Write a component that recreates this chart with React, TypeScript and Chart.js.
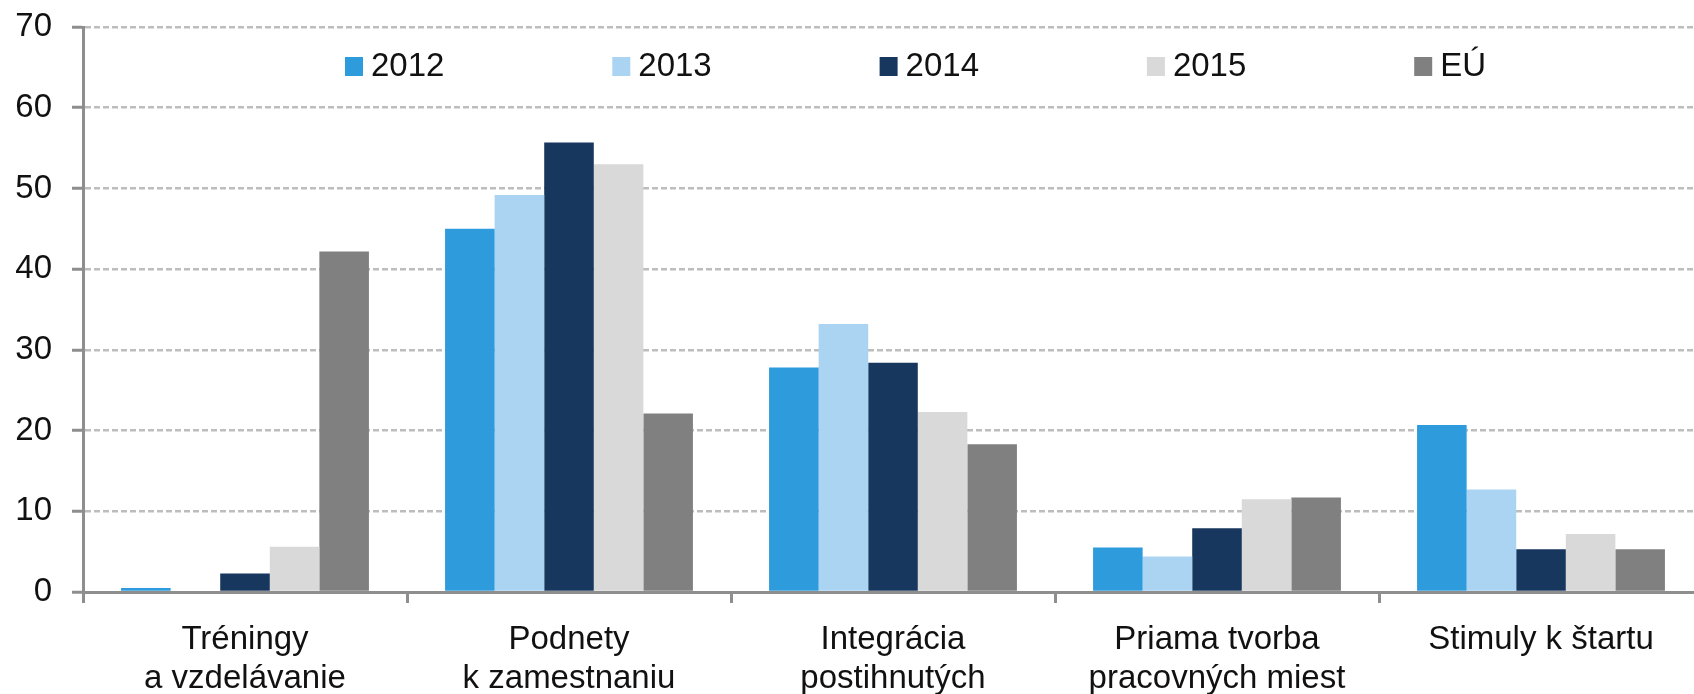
import { useEffect, useRef } from 'react';
import { Chart, registerables } from 'chart.js';

Chart.register(...registerables);

const categories: string[][] = [
  ['Tréningy', 'a vzdelávanie'],
  ['Podnety', 'k zamestnaniu'],
  ['Integrácia', 'postihnutých'],
  ['Priama tvorba', 'pracovných miest'],
  ['Stimuly k štartu'],
];
const seriesNames = ['2012', '2013', '2014', '2015', 'EÚ'];
const values2012 = [0.5, 45.0, 27.8, 5.5, 20.7];
const values2013 = [0, 49.2, 33.2, 4.4, 12.7];
const values2014 = [2.3, 55.7, 28.4, 7.9, 5.3];
const values2015 = [5.6, 53.0, 22.3, 11.5, 7.2];
const valuesEU = [42.2, 22.1, 18.3, 11.7, 5.3];
const seriesColors = ['#2E9BDD', '#ABD3F2', '#18375E', '#D9D9D9', '#808080'];
const yMin = 0;
const yMax = 70;
const yStep = 10;

const FONT = 'Liberation Sans, Arial, Helvetica, sans-serif';
const TEXT = '#111111';
const AXIS = '#8e8e8e';
const GRID = '#bdbdbd';

const legendPlugin = {
  id: 'insideLegend',
  afterDraw(chart: any) {
    const { ctx, chartArea } = chart;
    ctx.save();
    ctx.font = `33px ${FONT}`;
    ctx.textBaseline = 'middle';
    ctx.textAlign = 'left';
    chart.data.datasets.forEach((ds: any, i: number) => {
      const x = chartArea.left + 262 + i * 267.3;
      const y = 57;
      ctx.fillStyle = ds.backgroundColor;
      ctx.fillRect(x, y, 18, 19);
      ctx.fillStyle = TEXT;
      ctx.fillText(ds.label, x + 26, y + 10);
    });
    ctx.restore();
  },
};

export default function App() {
  const ref = useRef<HTMLCanvasElement | null>(null);

  useEffect(() => {
    if (!ref.current) return;
    const allValues = [values2012, values2013, values2014, values2015, valuesEU];
    const chart = new Chart(ref.current, {
      type: 'bar',
      data: {
        labels: categories as any,
        datasets: seriesNames.map((name, i) => ({
          label: name,
          data: allValues[i],
          backgroundColor: seriesColors[i],
          borderWidth: 0,
          categoryPercentage: 0.765,
          barPercentage: 1,
        })),
      },
      options: {
        animation: false,
        responsive: false,
        devicePixelRatio: 1,
        layout: { padding: { top: 27, left: 0, right: 0, bottom: 0 } },
        plugins: {
          legend: { display: false },
          tooltip: { enabled: false },
        },
        scales: {
          x: {
            offset: true,
            grid: {
              offset: true,
              drawOnChartArea: false,
              drawTicks: true,
              tickLength: 11,
              tickColor: AXIS,
              tickWidth: 3,
            },
            border: { display: true, color: AXIS, width: 3 },
            ticks: {
              color: TEXT,
              font: { family: FONT, size: 33, lineHeight: 1.18 },
              padding: 17,
              maxRotation: 0,
              minRotation: 0,
              autoSkip: false,
            },
            afterFit: (scale: any) => {
              scale.height = 107;
            },
          },
          y: {
            min: yMin,
            max: yMax,
            ticks: {
              stepSize: yStep,
              color: TEXT,
              font: { family: FONT, size: 33 },
              padding: 20,
            },
            grid: {
              color: (c: any) => (c.tick && c.tick.value === 0 ? 'rgba(0,0,0,0)' : GRID),
              lineWidth: 2.5,
              drawTicks: true,
              tickLength: 11,
              tickColor: AXIS,
              tickWidth: 3,
              tickBorderDash: [],
            },
            border: { display: true, color: AXIS, width: 3, dash: [6, 3] },
            afterFit: (scale: any) => {
              scale.width = 83;
              scale.paddingTop = 0;
              scale.paddingBottom = 0;
            },
          },
        },
      },
      plugins: [legendPlugin],
    });
    return () => chart.destroy();
  }, []);

  return (
    <div
      style={{
        position: 'fixed',
        left: 0,
        top: 0,
        width: 1694,
        height: 694,
        overflow: 'hidden',
        background: '#ffffff',
      }}
    >
      <canvas ref={ref} width={1703} height={699} style={{ display: 'block' }} />
    </div>
  );
}
